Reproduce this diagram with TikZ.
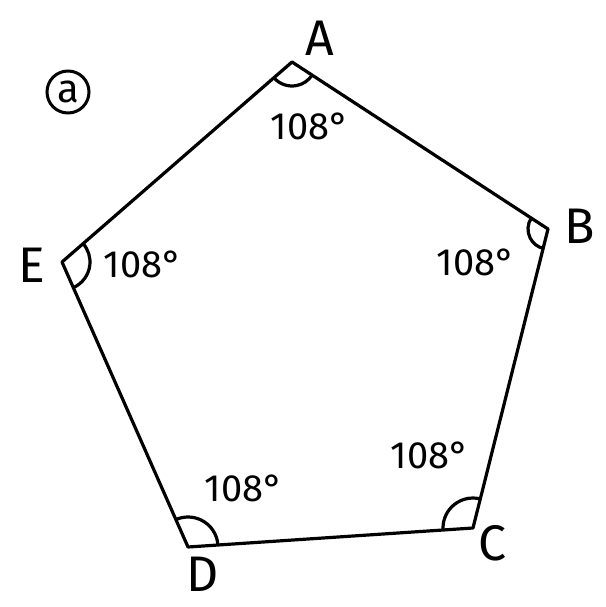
\documentclass[tikz,border=0pt]{standalone}
\usepackage{fontspec}
\setmainfont{Fira Sans}
\usetikzlibrary{angles}
\begin{document}
\begin{tikzpicture}[x=1pt,y=-1pt,
  edge/.style={line width=3.2pt,line join=round,line cap=round},
  arcmark/.style={draw,line width=3.2pt,angle radius=24pt},
  vlabel/.style={font=\fontsize{50}{50}\selectfont,inner sep=0pt},
  anglabel/.style={font=\fontsize{38}{38}\selectfont,inner sep=0pt}]
\useasboundingbox (0,0) rectangle (605,607);
\coordinate (A) at (292,62);
\coordinate (B) at (548,229);
\coordinate (C) at (473,528);
\coordinate (D) at (188,547);
\coordinate (E) at (62,262);
\draw[edge] (A) -- (B) -- (C) -- (D) -- (E) -- cycle;
\pic[arcmark] {angle = E--A--B};
\pic[arcmark,angle radius=20pt] {angle = A--B--C};
\pic[arcmark,angle radius=30pt] {angle = C--D--E};
\pic[arcmark,angle radius=30pt] {angle = B--C--D};
\pic[arcmark,angle radius=28pt] {angle = D--E--A};
\node[vlabel] (lA) at (320,38) {A};
\node[vlabel] (lB) at (580,226) {B};
\node[vlabel] (lC) at (492,543) {C};
\node[vlabel] (lD) at (203,574) {D};
\node[vlabel] (lE) at (32,265) {E};
\node[anglabel] (tA) at (310,126) {108°};
\node[anglabel] (tB) at (476,262) {108°};
\node[anglabel] (tC) at (430,455) {108°};
\node[anglabel] (tD) at (244,488) {108°};
\node[anglabel] (tE) at (143,264) {108°};
\node[draw,circle,line width=3pt,minimum size=42pt,inner sep=0pt,font=\fontsize{40}{40}\selectfont] (lab) at (68,92) {a};
\end{tikzpicture}
\end{document}
